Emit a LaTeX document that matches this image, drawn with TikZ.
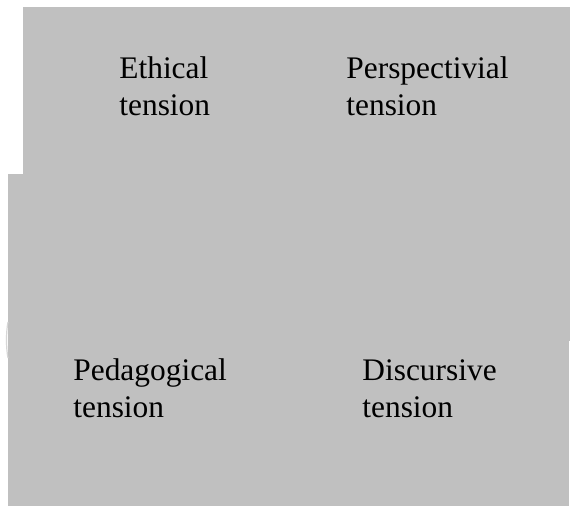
\documentclass[tikz,border=0pt]{standalone}
\usepackage{fontspec}
\setmainfont{Liberation Serif}
\definecolor{panel}{HTML}{C0C0C0}
\definecolor{faint}{HTML}{D6D6D6}
\tikzset{
  lbl/.style={anchor=base west, inner sep=0pt, align=left,
    font=\fontsize{15.7pt}{18.5pt}\selectfont, text=black},
}
\begin{document}
\begin{tikzpicture}[x=0.5pt,y=-0.5pt]
\useasboundingbox (0,0) rectangle (570,506);
\fill[white] (0,0) rectangle (570,506);
\fill[panel] (23,7) rectangle (570,175);
\fill[panel] (8,174) rectangle (570,506);
\draw[faint, line width=0.6pt] (8,322) .. controls (6,332) and (6,348) .. (8,358);
\draw[white, line width=0.5pt] (569.5,341) -- (569.5,506);
\node[lbl] (eth) at (119,116) {Ethical\\tension};
\node[lbl] (per) at (346,116) {Perspectivial\\tension};
\node[lbl] (ped) at (73,418) {Pedagogical\\tension};
\node[lbl] (dis) at (362,418) {Discursive\\tension};
\end{tikzpicture}
\end{document}
